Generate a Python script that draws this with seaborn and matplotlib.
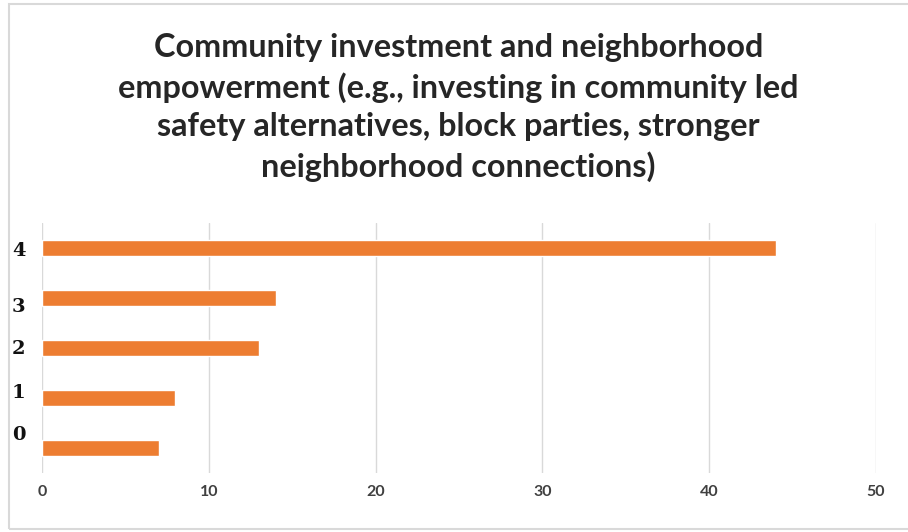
import matplotlib
matplotlib.use("Agg")
import matplotlib.pyplot as plt
import matplotlib.transforms as mtransforms
from matplotlib.patches import Rectangle
import pandas as pd
import seaborn as sns

# data
ratings = ['4', '3', '2', '1', '0']
responses = [44, 14, 13, 8, 7]
x_ticks = [0, 10, 20, 30, 40, 50]
title = ("Community investment and neighborhood\n"
         "empowerment (e.g., investing in community led\n"
         "safety alternatives, block parties, stronger\n"
         "neighborhood connections)")

df = pd.DataFrame({'rating': ratings, 'count': responses})

sns.set_style('white')
fig = plt.figure(figsize=(9.08, 5.32), dpi=100)
ax = fig.add_axes([42 / 908, 1 - 473 / 532, 834 / 908, 250 / 532])

sns.barplot(data=df, x='count', y='rating', order=ratings, orient='h',
            color='#ED7D31', saturation=1, width=0.32, ax=ax)

ax.set_xlim(0, 50)
ax.set_xticks(x_ticks)
ax.set_xlabel('')
ax.set_ylabel('')
ax.grid(axis='x', color='#d9d9d9', linewidth=1)
ax.set_axisbelow(True)
for s in ax.spines.values():
    s.set_visible(False)
ax.tick_params(axis='both', length=0)
ax.tick_params(axis='x', pad=9, labelsize=11.5, labelcolor='#404040')
ax.tick_params(axis='y', pad=12)

for lbl in ax.get_xticklabels():
    lbl.set_fontfamily('Lato')
    lbl.set_fontweight('bold')

# y labels sit a bit off the bars in the original
nudges = [-1, -7, 1, 7, 15]
for lbl, dy in zip(ax.get_yticklabels(), nudges):
    lbl.set_fontfamily('DejaVu Serif')
    lbl.set_fontweight('bold')
    lbl.set_fontsize(14)
    lbl.set_color('#111111')
    lbl.set_transform(lbl.get_transform() +
                      mtransforms.ScaledTranslation(0, dy / 100, fig.dpi_scale_trans))

fig.text(0.505, 1 - 33 / 532, title, ha='center', va='top', fontsize=23.3,
         fontweight='bold', family='Lato', color='#262626', linespacing=1.39)

# light chart border
fig.patches.append(Rectangle((9 / 908, 1 - 529 / 532), 1.0, 525 / 532,
                             transform=fig.transFigure, fill=False,
                             edgecolor='#d9d9d9', linewidth=1.5))

fig.savefig('out.png', dpi=100, facecolor='white')
